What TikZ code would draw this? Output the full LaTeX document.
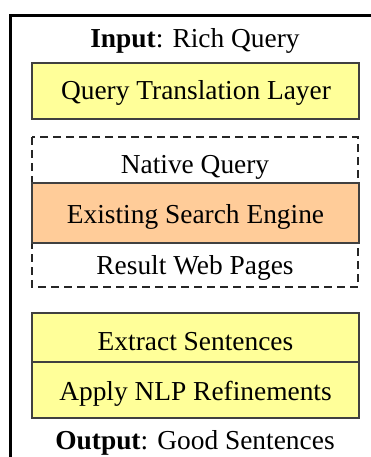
\documentclass[tikz,border=0pt]{standalone}
\usepackage{fontspec}
\setmainfont{Liberation Serif}
\begin{document}
\begin{tikzpicture}[x=1pt,y=-1pt,
  every node/.style={font=\fontsize{27.4}{31}\selectfont, inner sep=0pt},
  lbl/.style={anchor=base},
  boxy/.style={draw=black!75, line width=1.4pt, fill=yellowfill},
  boxo/.style={draw=black!75, line width=1.4pt, fill=orangefill},
  dashbox/.style={draw=black!85, line width=1.4pt, dash pattern=on 8pt off 5pt}
]
\definecolor{yellowfill}{RGB}{255,255,153}
\definecolor{orangefill}{RGB}{255,204,153}
\useasboundingbox (0,0) rectangle (370,457);
% frame
\draw[line width=3pt] (10.5,457) -- (10.5,15.5) -- (372,15.5);
% input
\node[lbl] (in) at (195,47.5) {\textbf{Input}: Rich Query};
% QTL
\draw[boxy] (32,63) rectangle (359,119);
\node[lbl] (qtl) at (196,100) {Query Translation Layer};
% dashed
\draw[dashbox] (32,137) rectangle (358,287);
\node[lbl] (nq) at (195,173) {Native Query};
\draw[boxo] (32,183) rectangle (359,243);
\node[lbl] (ese) at (195.5,223) {Existing Search Engine};
\node[lbl] (rwp) at (195,274) {Result Web Pages};
% extract
\draw[boxy] (32,313) rectangle (359,362);
\draw[boxy] (32,362) rectangle (359,418);
\node[lbl] (es) at (195.5,350) {Extract Sentences};
\node[lbl] (anr) at (195.5,400) {Apply NLP Refinements};
\node[lbl] (out) at (195,449) {\textbf{Output}: Good Sentences};
\end{tikzpicture}
\end{document}
